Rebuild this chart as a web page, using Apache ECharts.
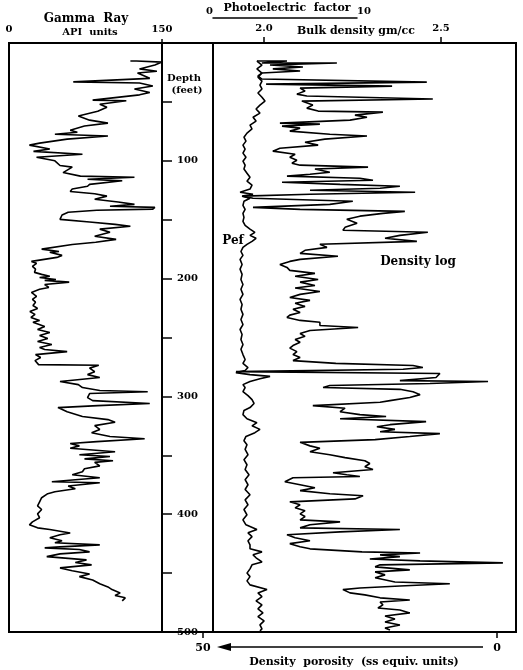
<!DOCTYPE html>
<html><head><meta charset="utf-8">
<script src="https://cdn.jsdelivr.net/npm/echarts@6/dist/echarts.min.js"></script>
<style>html,body{margin:0;padding:0;background:#fff}#c{width:523px;height:670px}</style>
</head><body><div id="c"></div>
<script>
// Depth (feet) / Gamma ray (API units)
const gammaRay = [[15.3,119],[15.3,125],[16.2,150],[18.7,143],[22,128],[24,145],[25.5,126],[30,138],[33,63],[34,128],[36.5,141],[39,123],[42,138],[44,128],[48.5,82],[49,115],[52,89],[54.5,96],[58,87],[62,68],[65.5,79],[68,97],[70.5,74],[74,60],[75.7,67],[77.4,45],[79,97],[81.6,57],[85,30],[86.7,20],[90,40],[92,24],[94.4,72],[97,27],[100,45],[104,50],[105.4,62],[110,53],[113,70],[114,123],[115.6,77],[117,111],[120,79],[121.6,77],[124,62],[126,60],[128,84],[130,96],[132.6,84],[135,107],[137,123],[138.6,99],[139.5,143],[141,141],[142,86],[143.7,58],[146,52],[149.7,50],[152,79],[154,104],[155.6,119],[158,89],[160.7,99],[164,84],[166.7,105],[169.2,85],[171,62],[175,32],[177,49],[177.7,40],[180.3,52],[182,47],[185.4,22],[187,27],[189.6,23],[192,26],[194.7,25],[196.4,32],[198,40],[199,30],[200.7,46],[201.5,35],[203,59],[205,35],[207.5,39],[209,30],[211.7,22],[215,27],[217.7,23],[220,26],[222.8,23.5],[225.3,28],[228,20.5],[230.4,25.5],[233,21.5],[235.5,30],[237,23.5],[240.6,35],[243.2,28],[245.7,40],[248.3,30],[250.9,38],[253.4,28],[256,42],[258.5,30],[260.2,35],[262,57],[264.5,26],[267,31],[269.6,25.5],[273,29],[273.5,88],[276,79],[279,84],[281.5,77],[284,89],[287.4,50],[290,68],[292.5,72],[295,89],[296,136],[297.6,79],[301,77],[303.6,82],[306,138],[307.8,87],[309.5,48],[313,57],[317,72],[319.7,97],[322,104],[324.8,84],[328,89],[330.8,81],[334,99],[336,133],[338.4,86],[340,60],[342,69],[344,60],[347,104],[349.5,69],[351,99],[353,74],[354.6,102],[356,84],[359,89],[361.4,74],[364,72],[366.5,62],[369,89],[370.7,65],[372.4,42],[373.3,89],[376,58],[378.4,65],[381,45],[382.6,38],[386,32],[389.5,30],[393,28],[396,32],[399.7,28],[403,30],[406.5,23],[409,20],[411.6,28],[413,40],[416,60],[417.5,50],[420,40],[422.6,52],[424.3,45],[426,89],[427.7,50],[428.6,35],[430,69],[432,79],[433.7,50],[436,37],[438.8,76],[441,65],[443,81],[445.6,50],[448,62],[450.7,79],[453,69],[455.8,82],[459,89],[461.7,97],[464,101],[466.8,109],[469,104],[471,114],[473.6,111]];

// Depth (feet) / Bulk density (gm/cc)
const bulkDensity = [[15.3,1.980],[15.3,2.065],[17,1.994],[17,2.206],[18.7,2.017],[20.4,2.110],[22,2.025],[23.8,2.102],[25.5,1.994],[28,1.983],[30.6,1.994],[33.2,2.460],[34.9,2.006],[36.6,2.362],[38.3,2.102],[40.8,2.116],[43.4,2.093],[45,2.121],[47.6,2.477],[49.3,2.107],[52.7,2.138],[55.3,2.121],[57.8,2.153],[58.7,2.336],[61.2,2.257],[63,2.291],[65.5,2.243],[68,2.045],[68.9,2.158],[70.6,2.051],[72.3,2.102],[74.8,2.073],[77.4,2.186],[79,2.291],[81.6,2.172],[84.2,2.116],[86.7,2.153],[89.3,2.045],[91.8,2.025],[94.4,2.088],[97,2.073],[99.5,2.093],[102,2.079],[103.7,2.102],[105.4,2.294],[107,2.144],[109.7,2.186],[111.4,2.130],[113,2.065],[114.8,2.271],[116.5,2.308],[118.2,2.051],[120,2.215],[121.6,2.384],[123.3,2.328],[125,2.130],[126.7,2.427],[128.4,2.130],[130,1.941],[131.8,1.969],[134.4,2.251],[137,2.186],[139.5,1.969],[141.2,2.102],[142.9,2.398],[144.6,2.336],[147,2.271],[149.7,2.234],[153,2.263],[156.5,2.229],[159,2.223],[160.7,2.463],[163.3,2.384],[165.8,2.342],[168.4,2.432],[170.9,2.158],[173.5,2.178],[176,2.116],[178.6,2.102],[181,2.209],[183.7,2.102],[185.4,2.073],[188,2.045],[190.5,2.065],[193,2.073],[195.6,2.144],[198,2.088],[200.7,2.153],[203,2.102],[205.8,2.144],[208,2.088],[211,2.158],[213.4,2.102],[216,2.073],[218.5,2.130],[221,2.088],[223.6,2.116],[226,2.082],[228.7,2.102],[231,2.073],[233,2.065],[235.5,2.102],[237,2.158],[239.8,2.158],[241.5,2.266],[244,2.130],[246.6,2.102],[249,2.116],[251.7,2.088],[254,2.102],[256.8,2.082],[259,2.073],[262,2.093],[264.5,2.082],[267,2.102],[269.6,2.082],[272,2.203],[273.8,2.421],[275.5,2.449],[277,2.393],[279,1.921],[280.6,2.497],[284,2.486],[286.6,2.384],[287.4,2.633],[289,2.469],[290.8,2.186],[292.5,2.167],[294,2.384],[296,2.421],[298.5,2.441],[301,2.412],[303.6,2.356],[305,2.328],[307.8,2.138],[310,2.229],[313,2.215],[315.5,2.271],[317,2.345],[319,2.215],[321.4,2.458],[324,2.356],[325.7,2.319],[328,2.370],[330,2.328],[331.6,2.497],[334,2.412],[336.7,2.314],[339,2.102],[342,2.130],[344,2.158],[347,2.130],[349.5,2.186],[352,2.229],[354.6,2.285],[357,2.299],[359.7,2.285],[362,2.308],[364.8,2.195],[366.5,2.234],[368,2.271],[369,2.082],[372.4,2.059],[375,2.102],[377.6,2.144],[380,2.102],[382.6,2.186],[384.4,2.280],[387,2.257],[389.5,2.073],[392,2.102],[394.6,2.088],[397,2.116],[399.7,2.102],[402,2.116],[404.8,2.102],[406.5,2.215],[409,2.130],[411.6,2.102],[413,2.384],[415,2.215],[417.5,2.065],[420,2.088],[422.6,2.130],[425,2.073],[427.7,2.102],[429.4,2.130],[432,2.277],[433,2.441],[434.5,2.328],[436,2.384],[438,2.299],[439.6,2.441],[441.3,2.675],[443,2.328],[444.7,2.314],[447.3,2.412],[449,2.314],[451.5,2.342],[454,2.314],[457.5,2.370],[459,2.525],[461,2.384],[462.6,2.271],[464,2.223],[466.8,2.243],[468.5,2.285],[471,2.328],[472.8,2.412],[474.5,2.328],[477,2.336],[479.6,2.322],[481.3,2.384],[483.8,2.412],[486.4,2.342],[489,2.370],[491.5,2.342],[494,2.384],[496.6,2.342],[498.3,2.356]];

// Depth (feet) / Photoelectric factor
const pef = [[15.3,3.05],[18.7,3.40],[22,3.05],[25.5,3.40],[29,3.12],[32.3,3.40],[35.7,3.26],[39,3.40],[42.5,3.12],[46,3.40],[49.3,3.61],[52.7,3.26],[56,2.99],[59.5,3.26],[63,2.78],[66.3,2.99],[69.7,2.57],[73,2.71],[76.5,2.36],[80,2.15],[83.3,2.29],[86.7,2.08],[90,2.23],[93.5,2.08],[97,2.29],[100.3,2.08],[103.7,2.23],[107,2.15],[110.5,2.36],[114,2.57],[117.3,2.36],[120.7,2.71],[124,2.57],[126.7,1.88],[128.4,2.78],[130,2.02],[131.8,2.57],[134.4,2.15],[137.8,2.08],[141.2,2.23],[144.6,2.08],[148,2.15],[151.4,2.08],[154.8,2.23],[158,2.57],[160.7,2.91],[163.3,2.57],[165.8,2.99],[168.4,2.71],[171,2.36],[173.5,2.08],[177,1.94],[180.3,2.08],[183.7,1.88],[188,2.02],[192,1.88],[196.4,2.02],[200.7,1.94],[205,2.08],[209,1.94],[213.4,2.08],[217.7,1.88],[222,2.02],[226,1.94],[230.4,2.08],[234.7,1.94],[239,2.08],[243.2,1.88],[247.4,2.02],[251.7,1.94],[256,2.08],[260,1.94],[264.5,2.08],[268.7,2.23],[272,2.08],[275.5,2.43],[278,2.23],[279.8,1.59],[281.5,2.57],[283,3.96],[285,3.26],[287.4,2.57],[290,2.08],[292.5,2.23],[296,2.08],[299.3,2.43],[302.7,2.71],[306,2.85],[309.5,2.57],[312,2.15],[315.5,2.08],[319,2.36],[322.3,3.05],[325,2.71],[328,3.26],[330.8,2.91],[334,2.29],[337.6,2.15],[341,2.36],[345,2.23],[349.5,2.43],[353.7,2.15],[358,2.36],[362,2.23],[366.5,2.50],[370.7,2.23],[375,2.43],[379,2.23],[383.5,2.57],[387.8,2.23],[392,2.43],[396,2.15],[400.5,2.36],[404.8,2.08],[409,2.29],[413,3.05],[415.8,2.43],[419,2.71],[422.6,2.43],[426,2.57],[429.4,2.57],[432,3.40],[434.5,2.78],[437,2.99],[440.5,3.40],[443,2.71],[446.4,2.57],[450,2.36],[453,2.57],[456.6,2.36],[460,2.57],[464,3.75],[466.8,3.12],[470,3.40],[473.6,2.99],[477,3.40],[480.4,3.12],[483.8,3.47],[487,3.12],[490.6,3.55],[494,3.26],[497.4,3.40],[499,3.26]];

const grTicks = [0, 150];
const densityTicks = [2.0, 2.5];
const pefTicks = [0, 10];
const porosityTicks = [0, 50];
const depthLabels = [100, 200, 300, 400, 500];

const FF = 'DejaVu Serif';
const chart = echarts.init(document.getElementById('c'), null, {renderer: 'canvas'});
const txt = (size) => ({fontFamily: FF, fontWeight: 'bold', fontSize: size, color: '#000'});
const noSplit = {show: false};
const hiddenDepth = (g) => ({type: 'value', gridIndex: g, min: 0, max: 500, inverse: true, show: false, splitLine: noSplit});
const TOP = 43, H = 589;
const curve = {color: '#000', width: 1.6};

chart.setOption({
  animation: false,
  backgroundColor: '#fff',
  grid: [
    {left: 9, top: TOP, width: 153, height: H, show: true, borderColor: '#000', borderWidth: 2},
    {left: 162, top: TOP, width: 51, height: H, show: true, borderColor: '#000', borderWidth: 2},
    {left: 213, top: TOP, width: 303, height: H, show: true, borderColor: '#000', borderWidth: 2},
    {left: 213, top: TOP, width: 144, height: H, show: false},
    {left: 203, top: TOP, width: 294, height: H, show: false}
  ],
  xAxis: [
    {type: 'value', gridIndex: 0, position: 'top', min: 0, max: 150, splitLine: noSplit,
     axisLine: {show: false, onZero: false},
     axisTick: {show: true, customValues: [150], length: 4, lineStyle: {color: '#000', width: 1.5}},
     axisLabel: {customValues: grTicks, margin: 9, ...txt(10)}},
    {type: 'value', gridIndex: 1, min: 0, max: 1, show: false, splitLine: noSplit, axisLine: {onZero: false}},
    {type: 'value', gridIndex: 2, position: 'top', min: 1.856, max: 2.712, splitLine: noSplit,
     axisLine: {show: false, onZero: false},
     axisTick: {show: true, customValues: densityTicks, length: 6, lineStyle: {color: '#000', width: 1.5}},
     axisLabel: {customValues: densityTicks, margin: 10, formatter: v => Number(v).toFixed(1), ...txt(10)}},
    {type: 'value', gridIndex: 3, position: 'top', offset: 25, min: 0, max: 10, splitLine: noSplit,
     axisLine: {show: true, onZero: false, lineStyle: {color: '#000', width: 1.5}},
     axisTick: {show: false},
     axisLabel: {customValues: pefTicks, margin: 2, alignMinLabel: 'right', alignMaxLabel: 'left', ...txt(10)}},
    {type: 'value', gridIndex: 4, position: 'bottom', min: 0, max: 50, inverse: true, splitLine: noSplit,
     axisLine: {show: false, onZero: false},
     axisTick: {show: true, customValues: porosityTicks, length: 6, lineStyle: {color: '#000', width: 1.5}},
     axisLabel: {customValues: porosityTicks, margin: 11, ...txt(11)}}
  ],
  yAxis: [
    hiddenDepth(0),
    {type: 'value', gridIndex: 1, position: 'left', min: 0, max: 500, interval: 50, inverse: true,
     splitLine: noSplit, axisLine: {show: false, onZero: false},
     axisTick: {show: true, inside: true, length: 10, lineStyle: {color: '#000', width: 1.5}},
     axisLabel: {inside: true, margin: 15, customValues: depthLabels, ...txt(10)}},
    hiddenDepth(2),
    hiddenDepth(3),
    hiddenDepth(4)
  ],
  series: [
    {type: 'line', name: 'Gamma Ray', xAxisIndex: 0, yAxisIndex: 0, showSymbol: false,
     data: gammaRay.map(p => [p[1], p[0]]), lineStyle: curve},
    {type: 'line', name: 'Density log', xAxisIndex: 2, yAxisIndex: 2, showSymbol: false,
     data: bulkDensity.map(p => [p[1], p[0]]), lineStyle: curve},
    {type: 'line', name: 'Pef', xAxisIndex: 3, yAxisIndex: 3, showSymbol: false,
     data: pef.map(p => [p[1], p[0]]), lineStyle: curve}
  ],
  graphic: [
    {type: 'text', x: 86, y: 19, style: {text: 'Gamma  Ray', font: 'bold 12px "DejaVu Serif"', fill: '#000', textAlign: 'center', textVerticalAlign: 'middle'}},
    {type: 'text', x: 90, y: 32, style: {text: 'API  units', font: 'bold 10px "DejaVu Serif"', fill: '#000', textAlign: 'center', textVerticalAlign: 'middle'}},
    {type: 'text', x: 287, y: 8, style: {text: 'Photoelectric  factor', font: 'bold 11px "DejaVu Serif"', fill: '#000', textAlign: 'center', textVerticalAlign: 'middle'}},
    {type: 'text', x: 356, y: 31, style: {text: 'Bulk density gm/cc', font: 'bold 11px "DejaVu Serif"', fill: '#000', textAlign: 'center', textVerticalAlign: 'middle'}},
    {type: 'text', x: 184, y: 78, style: {text: 'Depth', font: 'bold 10px "DejaVu Serif"', fill: '#000', textAlign: 'center', textVerticalAlign: 'middle'}},
    {type: 'text', x: 187, y: 90, style: {text: '(feet)', font: 'bold 10px "DejaVu Serif"', fill: '#000', textAlign: 'center', textVerticalAlign: 'middle'}},
    {type: 'text', x: 233, y: 241, style: {text: 'Pef', font: 'bold 12px "DejaVu Serif"', fill: '#000', textAlign: 'center', textVerticalAlign: 'middle'}},
    {type: 'text', x: 418, y: 262, style: {text: 'Density log', font: 'bold 12px "DejaVu Serif"', fill: '#000', textAlign: 'center', textVerticalAlign: 'middle'}},
    {type: 'text', x: 354, y: 662, style: {text: 'Density  porosity  (ss equiv. units)', font: 'bold 11px "DejaVu Serif"', fill: '#000', textAlign: 'center', textVerticalAlign: 'middle'}},
    {type: 'line', shape: {x1: 483, y1: 647, x2: 226, y2: 647}, style: {stroke: '#000', lineWidth: 1.5}},
    {type: 'polygon', shape: {points: [[217, 647], [231, 643], [231, 651]]}, style: {fill: '#000'}}
  ]
});
</script></body></html>
